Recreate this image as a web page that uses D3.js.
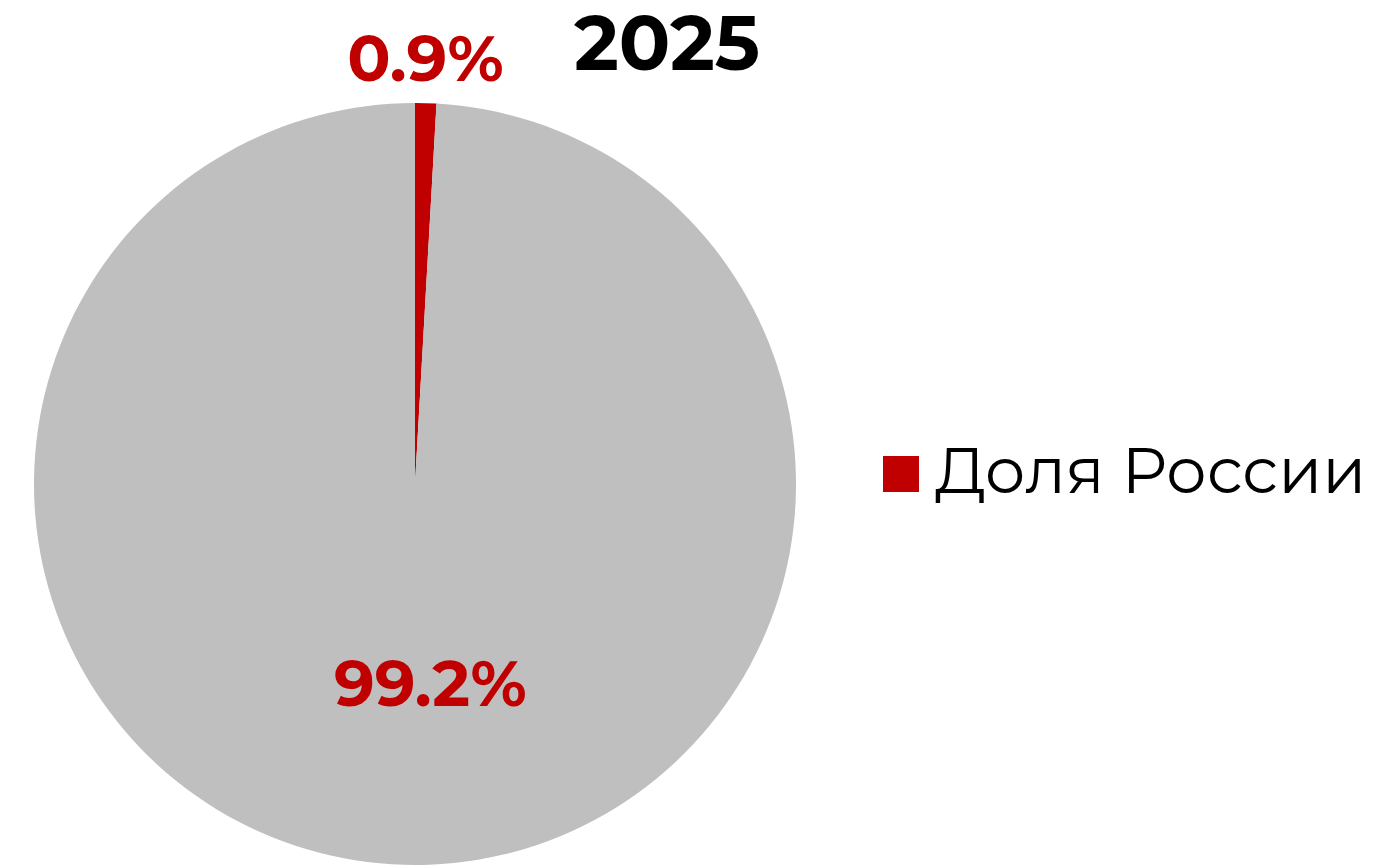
<!DOCTYPE html>
<html>
<head>
<meta charset="utf-8">
<script src="https://cdn.jsdelivr.net/npm/d3@7"></script>
<style>
  html, body { margin: 0; padding: 0; background: #ffffff; }
  svg { display: block; }
</style>
</head>
<body>
<svg id="chart" width="1390" height="865"></svg>
<script>
// Share of Russia, 2025
const title = "2025";
const categories = ["Доля России", "Прочие"];
const values = [0.9, 99.2];
const valueLabels = ["0.9%", "99.2%"];
const legendItems = ["Доля России"];

const colors = d3.scaleOrdinal().domain(categories).range(["#C00000", "#BFBFBF"]);
const labelFont = "Montserrat, 'Open Sans', 'Liberation Sans', sans-serif";

const svg = d3.select("#chart");
const cx = 415, cy = 484, r = 381;

const pie = d3.pie().sort(null).value(d => d.value);
const arcs = pie(categories.map((c, i) => ({ cat: c, value: values[i], label: valueLabels[i] })));
const arc = d3.arc().innerRadius(0).outerRadius(r);

const g = svg.append("g").attr("transform", `translate(${cx},${cy})`);

g.selectAll("path.slice")
  .data(arcs)
  .join("path")
  .attr("class", "slice")
  .attr("d", arc)
  .attr("fill", d => colors(d.data.cat));

// Small slice label sits just outside the rim; the large one inside.
const outerLabelArc = d3.arc().innerRadius(r + 22).outerRadius(r + 22);
const innerLabelArc = d3.arc().innerRadius(200).outerRadius(200);

g.selectAll("text.value")
  .data(arcs)
  .join("text")
  .attr("class", "value")
  .attr("transform", d => {
    const small = (d.endAngle - d.startAngle) < 0.3;
    const [x, y] = small ? outerLabelArc.centroid(d) : innerLabelArc.centroid(d);
    return `translate(${small ? x - 1 : x + 21},${small ? y : y + 22})`;
  })
  .attr("text-anchor", "middle")
  .attr("font-family", labelFont)
  .attr("font-weight", 700)
  .attr("font-size", 64)
  .attr("fill", "#C00000")
  .text(d => d.data.label);

// Title
svg.append("text")
  .attr("x", 667)
  .attr("y", 70)
  .attr("text-anchor", "middle")
  .attr("font-family", labelFont)
  .attr("font-weight", 700)
  .attr("font-size", 76)
  .attr("fill", "#000000")
  .text(title);

// Legend
const legend = svg.append("g").attr("transform", "translate(883,456)");
const items = legend.selectAll("g.item")
  .data(legendItems)
  .join("g")
  .attr("class", "item");
items.append("rect")
  .attr("width", 36)
  .attr("height", 36)
  .attr("fill", d => colors(d));
items.append("text")
  .attr("x", 52)
  .attr("y", 37)
  .attr("font-family", labelFont)
  .attr("font-weight", 400)
  .attr("font-size", 64)
  .attr("fill", "#000000")
  .text(d => d);
</script>
</body>
</html>
